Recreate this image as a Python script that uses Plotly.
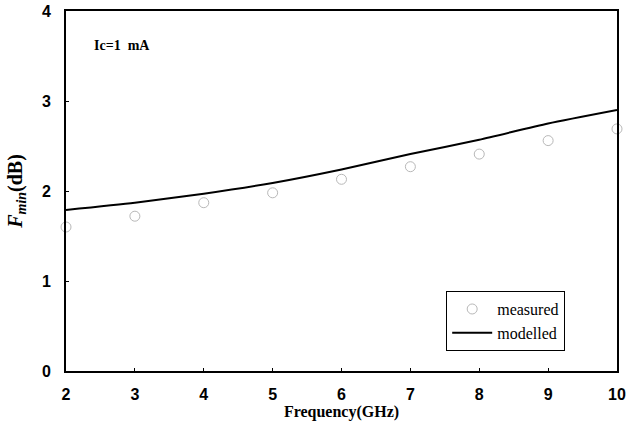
import plotly.graph_objects as go

freq = [2, 3, 4, 5, 6, 7, 8, 9, 10]
measured = [1.60, 1.72, 1.87, 1.98, 2.13, 2.27, 2.41, 2.56, 2.69]
modelled = [1.79, 1.87, 1.97, 2.09, 2.24, 2.41, 2.57, 2.75, 2.90]

fig = go.Figure()
fig.add_trace(go.Scatter(
    x=freq, y=measured, mode="markers", name="measured",
    marker=dict(symbol="circle-open", size=10, color="#b8b8b8",
                line=dict(width=1, color="#b8b8b8")),
    cliponaxis=False,
))
fig.add_trace(go.Scatter(
    x=freq, y=modelled, mode="lines", name="modelled",
    line=dict(color="black", width=2, shape="spline", smoothing=0.6),
))

fig.update_layout(
    width=627, height=431,
    margin=dict(l=66, r=10, t=11, b=60, autoexpand=False),
    plot_bgcolor="white", paper_bgcolor="white",
    showlegend=True,
    legend=dict(
        x=0.69, y=0.222, xanchor="left", yanchor="top",
        bordercolor="black", borderwidth=1, bgcolor="white",
        font=dict(family="Liberation Serif", size=16, color="black"),
        tracegroupgap=0, itemwidth=40,
    ),
    annotations=[dict(
        x=0.047, y=0.905, xref="paper", yref="paper",
        text="<b>Ic=1&nbsp;&nbsp;mA</b>", showarrow=False, xanchor="left", yanchor="middle",
        font=dict(family="Liberation Serif", size=14, color="black"),
    )],
)
fig.update_xaxes(
    range=[2, 10], tickvals=freq, ticks="inside", ticklen=3, tickcolor="black",
    ticklabelstandoff=8,
    showline=True, linecolor="black", linewidth=2, mirror=True, showgrid=False,
    zeroline=False,
    tickfont=dict(family="Liberation Sans", size=16, color="black", weight="bold"),
    title=dict(text="<b>Frequency(GHz)</b>", standoff=4,
               font=dict(family="Liberation Serif", size=16, color="black")),
)
fig.update_yaxes(
    range=[0, 4], tickvals=[0, 1, 2, 3, 4], ticks="inside", ticklen=3, tickcolor="black",
    ticklabelstandoff=10,
    showline=True, linecolor="black", linewidth=2, mirror=True, showgrid=False,
    zeroline=False,
    tickfont=dict(family="Liberation Sans", size=16, color="black", weight="bold"),
    title=dict(text="<b><i>F</i><sub><i>min</i></sub>(dB)</b>", standoff=14,
               font=dict(family="Liberation Serif", size=20, color="black")),
)

fig.write_html("out.html", config={"displayModeBar": False},
               post_script="document.body.style.margin='0';")
